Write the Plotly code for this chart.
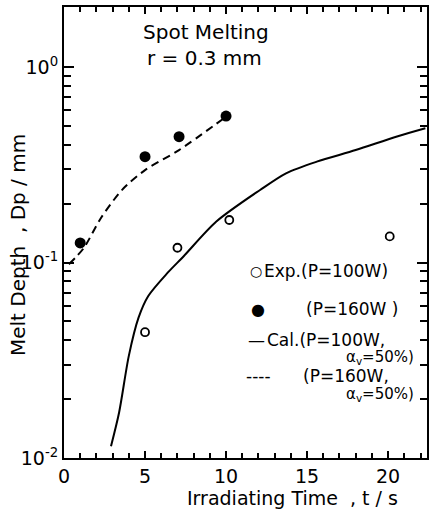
import plotly.graph_objects as go

# ---- data ----
exp100_t = [5.0, 7.0, 10.2, 20.1]
exp100_d = [0.044, 0.119, 0.165, 0.136]
exp160_t = [1.0, 5.0, 7.1, 10.0]
exp160_d = [0.126, 0.348, 0.44, 0.561]
cal100_t = [2.9, 3.4, 4.0, 4.6, 5.2, 6.4, 7.4, 9.4, 12.1, 13.7, 15.6, 18.0, 20.5, 22.3]
cal100_d = [0.0115, 0.0171, 0.0333, 0.0522, 0.0674, 0.0887, 0.108, 0.162, 0.235, 0.286, 0.328, 0.376, 0.44, 0.486]
cal160_t = [0.3, 1.2, 2.3, 3.6, 5.0, 7.1, 9.9]
cal160_d = [0.098, 0.118, 0.170, 0.236, 0.297, 0.376, 0.549]

x_ticks = [0, 5, 10, 15, 20]
y_major = [0.01, 0.1, 1]
y_major_text = ["10<sup>-2</sup>", "10<sup>-1</sup>", "10<sup>0</sup>"]
y_minor = [m * d for d in (0.01, 0.1) for m in range(2, 10)]

FONT = "DejaVu Sans"
W, H = 431, 512
L, R, T, B = 64, 4, 7, 54
PW, PH = W - L - R, H - T - B


def px(xp):
    return (xp - L) / PW


def py(yp):
    return (H - B - yp) / PH


fig = go.Figure()
fig.add_trace(go.Scatter(x=cal100_t, y=cal100_d, mode="lines",
                         line=dict(color="black", width=2, shape="spline", smoothing=0.8)))
fig.add_trace(go.Scatter(x=cal160_t, y=cal160_d, mode="lines",
                         line=dict(color="black", width=2, dash="8px,5px", shape="spline", smoothing=0.8)))
fig.add_trace(go.Scatter(x=exp100_t, y=exp100_d, mode="markers",
                         marker=dict(symbol="circle-open", size=8, color="black", line=dict(width=1.8))))
fig.add_trace(go.Scatter(x=exp160_t, y=exp160_d, mode="markers",
                         marker=dict(symbol="circle", size=11, color="black")))

annos = [
    ("Spot Melting", 206, 32, "center", 20),
    ("r = 0.3 mm", 204, 58, "center", 20),
    ("○", 256, 271, "center", 14),
    ("Exp.(P=100W)", 262, 271, "left", 17),
    ("●", 258, 309, "center", 16),
    ("(P=160W )", 304, 309, "left", 17),
    ("—", 256, 340, "center", 17),
    ("Cal.(P=100W,", 265, 340, "left", 17),
    ("α<sub>v</sub>=50%)", 416, 357, "right", 15),
    ("----", 258, 376, "center", 17),
    ("(P=160W,", 301, 376, "left", 17),
    ("α<sub>v</sub>=50%)", 416, 394, "right", 15),
    ("Irradiating Time  , t / s", 292, 498, "center", 19),
]
for text, x, y, anchor, size in annos:
    fig.add_annotation(x=px(x), y=py(y), xref="paper", yref="paper", text=text,
                       showarrow=False, xanchor=anchor, yanchor="middle",
                       font=dict(family=FONT, size=size, color="black"))
fig.add_annotation(x=px(18), y=py(245), xref="paper", yref="paper",
                   text="Melt Depth  , Dp / mm", textangle=-90, showarrow=False,
                   xanchor="center", yanchor="middle",
                   font=dict(family=FONT, size=20, color="black"))

fig.update_xaxes(range=[0, 22.4], tickmode="array", tickvals=x_ticks,
                 ticks="inside", ticklen=7, tickwidth=1.5, tickcolor="black",
                 minor=dict(dtick=1, ticks="inside", ticklen=5, tickwidth=1.5, tickcolor="black"),
                 showline=True, linewidth=2, linecolor="black", mirror="ticks",
                 showgrid=False, zeroline=False, automargin=False,
                 tickfont=dict(family=FONT, size=19, color="black"))
fig.update_yaxes(type="log", range=[-2, 0.307], tickmode="array",
                 tickvals=y_major, ticktext=y_major_text,
                 ticks="inside", ticklen=10, tickwidth=1.5, tickcolor="black",
                 minor=dict(tickmode="array", tickvals=y_minor, ticks="inside", ticklen=7,
                            tickwidth=1.5, tickcolor="black"),
                 showline=True, linewidth=2, linecolor="black", mirror="ticks",
                 showgrid=False, zeroline=False, automargin=False,
                 tickfont=dict(family=FONT, size=19, color="black"))
fig.update_layout(width=W, height=H, margin=dict(l=L, r=R, t=T, b=B, autoexpand=False),
                  paper_bgcolor="white", plot_bgcolor="white", showlegend=False)
fig.write_html("out.html", config={"displayModeBar": False},
               post_script="document.body.style.margin='0px';document.body.style.padding='0px';")
